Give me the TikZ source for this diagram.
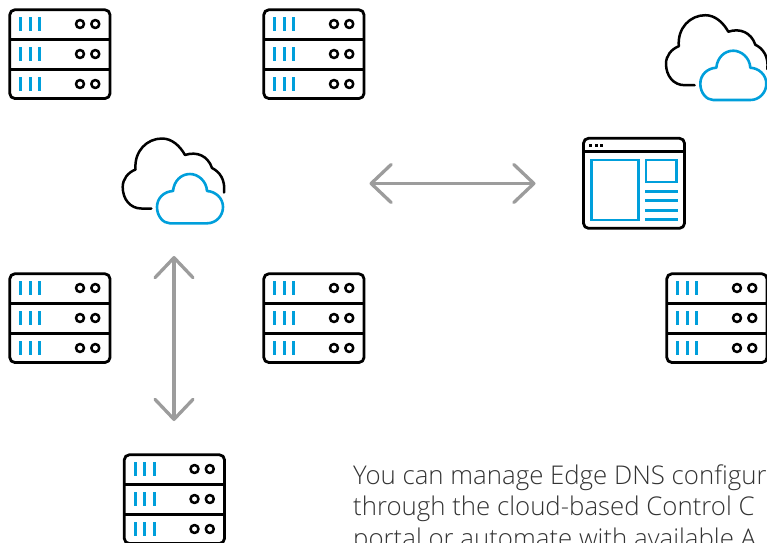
\documentclass[tikz,border=0pt]{standalone}
\usepackage{fontspec}
\setmainfont{Open Sans}[UprightFont=* Light]
\usetikzlibrary{arrows.meta}
\definecolor{iconblue}{HTML}{009FDB}
\definecolor{arrowgray}{HTML}{9C9C9C}
\definecolor{textgray}{HTML}{333333}
\tikzset{
  blackline/.style={draw=black,line width=2.8pt,line cap=round,line join=round},
  blueline/.style={draw=iconblue,line width=2.6pt,line cap=round,line join=round},
  bluebar/.style={draw=iconblue,line width=3pt,line cap=butt},
  bluerule/.style={draw=iconblue,line width=2.8pt,line cap=butt},
  twoway/.style={draw=arrowgray,line width=3.3pt,line cap=round,
    {Straight Barb[length=20pt,width=38pt,round]}-{Straight Barb[length=20pt,width=38pt,round]}},
  caption/.style={anchor=base west,inner sep=0pt,text=textgray,font=\fontsize{25.8}{31.5}\selectfont,align=left},
  serverpic/.pic={
    \draw[blackline,rounded corners=5pt] (9.8,9.8) rectangle (110,98.5);
    \draw[blackline,line cap=butt] (9.8,39.3) -- (110,39.3) (9.8,69.3) -- (110,69.3);
    \foreach \r in {0,30,60}{
      \foreach \b in {20.5,30.4,39.7}{\draw[bluebar] (\b,17+\r) -- (\b,31+\r);}
      \draw[blackline,line width=2.5pt] (80,24+\r) circle[radius=4];
      \draw[blackline,line width=2.5pt] (95.3,24+\r) circle[radius=4];
    }
  },
  cloudpic/.pic={
    \draw[blackline,line width=2.5pt] (151.3,208.5) -- (141.5,208.5)
      .. controls (130,208.5) and (122.7,199) .. (122.7,187)
      .. controls (122.7,179) and (128,172.5) .. (135.5,169.5)
      .. controls (134,151) and (147,138.5) .. (162,138.5)
      .. controls (172,138.5) and (180,146) .. (185,155)
      .. controls (197,151) and (208,156) .. (212,168)
      .. controls (220,172) and (225.5,180) .. (224,192.5);
    \draw[blueline] (170,223.3) -- (207,223.3)
      .. controls (216,223.3) and (223,216) .. (223,207)
      .. controls (223,198) and (215.5,191.5) .. (207,191)
      .. controls (206.5,181) and (198,174) .. (190,174)
      .. controls (181,174) and (174,181) .. (173,191)
      .. controls (164,191.5) and (157,198) .. (157,207)
      .. controls (157,216) and (163,223.3) .. (170,223.3) -- cycle;
  }
}
\begin{document}
\begin{tikzpicture}[x=1pt,y=-1pt]
\useasboundingbox (0,0) rectangle (767,542);
\pic at (0,0) {serverpic};
\pic at (254,0) {serverpic};
\pic at (0,264) {serverpic};
\pic at (254,264) {serverpic};
\pic at (657,264) {serverpic};
\pic at (114.5,445) {serverpic};
\pic at (0,0) {cloudpic};
\pic at (543.3,-123.3) {cloudpic};
% console window
\draw[blackline,rounded corners=5pt] (583.5,138.3) rectangle (684.5,228.3);
\draw[blackline,line cap=butt] (583.5,151.7) -- (684.5,151.7);
\foreach \d in {590.7,596.2,601.7}{\fill[black] (\d-1.5,144.2) rectangle (\d+1.5,147.2);}
\draw[bluerule] (591.5,160) rectangle (638.3,220);
\draw[bluerule] (646,160) rectangle (676.7,182);
\foreach \l in {191.3,200.5,210.3,219.3}{\draw[bluerule] (645,\l) -- (678,\l);}
% arrows
\coordinate (hleft) at (369.5,183.5);
\coordinate (hright) at (535.5,183.5);
\coordinate (vtop) at (174,256);
\coordinate (vbottom) at (174,421);
\draw[twoway] (hleft) -- (hright);
\draw[twoway] (vtop) -- (vbottom);
\node[caption] (captiontext) at (353,547) {You can manage Edge DNS configur\\through the cloud-based Control C\\portal or automate with available A};
\end{tikzpicture}
\end{document}
